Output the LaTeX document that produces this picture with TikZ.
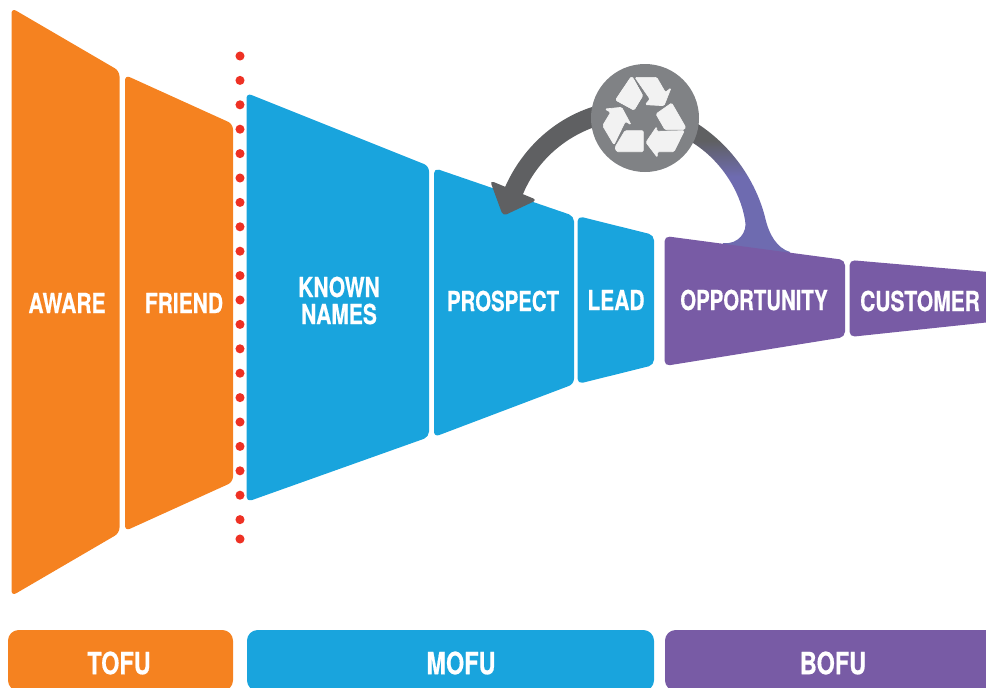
\documentclass[tikz,border=0pt]{standalone}
\usepackage{fontspec}
\setmainfont{TeX Gyre Heros}[FakeStretch=0.765,BoldFeatures={FakeBold=0.5}]
\definecolor{orangeC}{HTML}{F58220}
\definecolor{blueC}{HTML}{19A4DD}
\definecolor{purpleC}{HTML}{785BA5}
\definecolor{redC}{HTML}{EE3124}
\definecolor{greyC}{HTML}{808285}
\definecolor{darkC}{HTML}{5F6062}
\definecolor{iconC}{HTML}{F2F2F2}
\definecolor{flareC}{HTML}{6E6BB0}
\pgfdeclareverticalshading{flareshade}{100bp}{
  color(0bp)=(flareC); color(56bp)=(flareC); color(68bp)=(darkC); color(100bp)=(darkC)}
\tikzset{
  seg/.style={fill=#1,draw=none,rounded corners=4},
  bar/.style={fill=#1,draw=none,rounded corners=8},
  lab/.style={text=white,font=\bfseries\fontsize{20.6}{27}\selectfont,align=center,inner sep=0pt},
  barlab/.style={text=white,font=\bfseries\fontsize{23}{27}\selectfont,inner sep=0pt},
  reddot/.style={circle,fill=redC,draw=none,minimum size=6.8,inner sep=0pt},
  icon/.style={fill=iconC,draw=iconC,line width=0.5pt,rounded corners=1}
}
\begin{document}
\begin{tikzpicture}[x=0.75pt,y=-0.75pt]
\useasboundingbox (0,0) rectangle (986,687);
\clip (0,0) rectangle (986,687);
% funnel
\fill[seg=orangeC] (11.5,8) -- (119.5,71) -- (119.5,533) -- (11.5,596) -- cycle;
\fill[seg=orangeC] (125,75) -- (233,124) -- (233,482) -- (125,531) -- cycle;
\fill[seg=blueC] (246.5,93) -- (429,166) -- (429,437) -- (246.5,502) -- cycle;
\fill[seg=blueC] (434,168) -- (574,216) -- (574,384) -- (434,437) -- cycle;
\fill[seg=blueC] (577.5,216) -- (654,235) -- (654,365) -- (577.5,384) -- cycle;
% return arc, right part with flare
\shade[shading=flareshade,shading angle=0]
  (690,120) -- (698,124) .. controls (733,147) and (756,182) .. (765,217)
  .. controls (769,235) and (777,248) .. (790,252)
  -- (790,268) -- (723,256) -- (723,243)
  .. controls (738,245) and (748,232) .. (745,220)
  .. controls (740,190) and (720,160) .. (693,143) -- (680,135) -- cycle;
\fill[seg=purpleC] (664.5,236) -- (845,260) -- (845,337) -- (664.5,366) -- cycle;
\fill[seg=purpleC] (849.5,260) -- (1000,273) -- (1000,321) -- (849.5,337) -- cycle;
% return arc, left part with head
\fill[darkC] (600,105) -- (592,107) .. controls (552,120) and (522,150) .. (506,185)
  -- (502,193) -- (519,202) -- (523,194) .. controls (535,165) and (560,140) .. (592,128) -- (600,125) -- cycle;
\fill[darkC,rounded corners=3] (490,180.5) -- (503,216) -- (537,200) -- cycle;
% dotted line
\foreach \i in {0,...,19} \node[reddot] (d\i) at (240,56+24.4*\i) {};
\node[reddot] (dlast) at (240,539) {};
% recycle badge
\node[circle,fill=greyC,draw=none,minimum size=81pt,inner sep=0pt] (badge) at (645,118) {};
\begin{scope}[shift={(590,64)},x=0.25pt,y=-0.25pt]
\fill[icon] (122,41) -- (128,41) -- (158,95) -- (132,138) -- (77,108) -- cycle;
\filldraw[icon] (135,40) -- (200,40) -- (226,85) -- (243,72) -- (222,125) -- (166,122) -- (180,105) -- cycle;
\filldraw[icon] (245,117) -- (287,190) -- (282,197) -- (225,197) -- (198,150) -- cycle;
\filldraw[icon] (283,200) -- (252,263) -- (202,263) -- (202,280) -- (168,235) -- (200,188) -- (200,202) -- cycle;
\filldraw[icon] (105,200) -- (160,200) -- (160,263) -- (80,263) -- (75,250) -- cycle;
\filldraw[icon] (45,135) -- (95,130) -- (123,182) -- (106,172) -- (72,242) -- (38,185) -- (62,145) -- cycle;
\filldraw[icon] (122,41) -- (128,41) -- (158,95) -- (132,138) -- (77,108) -- cycle;
\end{scope}
% segment labels
\node[lab] (aware) at (67,303) {AWARE};
\node[lab] (friend) at (184,303) {FRIEND};
\node[lab] (known) at (339,287) {KNOWN};
\node[lab] (names) at (339,314) {NAMES};
\node[lab,transform shape,xscale=0.97] (prospect) at (503,301) {PROSPECT};
\node[lab] (lead) at (616,300) {LEAD};
\node[lab,transform shape,xscale=0.97] (opp) at (754,300) {OPPORTUNITY};
\node[lab] (cust) at (920,301) {CUSTOMER};
% bottom bars
\fill[bar=orangeC] (8,630) rectangle (233,691);
\fill[bar=blueC] (247,630) rectangle (654,691);
\fill[bar=purpleC] (665,630) rectangle (1010,691);
\node[barlab] (tofu) at (119,663) {TOFU};
\node[barlab] (mofu) at (461,663) {MOFU};
\node[barlab] (bofu) at (833,663) {BOFU};
\end{tikzpicture}
\end{document}
